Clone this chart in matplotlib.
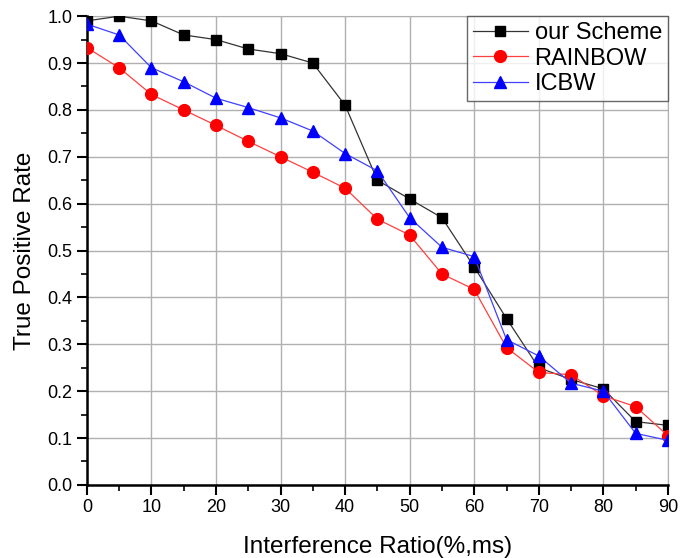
import matplotlib
matplotlib.use("Agg")
import matplotlib.pyplot as plt
from matplotlib.ticker import MultipleLocator, FormatStrFormatter

ratio = [0, 5, 10, 15, 20, 25, 30, 35, 40, 45, 50, 55, 60, 65, 70, 75, 80, 85, 90]
our_scheme = [0.99, 1.0, 0.99, 0.96, 0.95, 0.93, 0.92, 0.90, 0.81, 0.65, 0.61, 0.57,
              0.465, 0.355, 0.25, 0.225, 0.205, 0.135, 0.127]
rainbow = [0.933, 0.89, 0.833, 0.80, 0.767, 0.733, 0.70, 0.667, 0.633, 0.567, 0.533,
           0.45, 0.417, 0.293, 0.24, 0.235, 0.19, 0.167, 0.105]
icbw = [0.983, 0.96, 0.89, 0.86, 0.825, 0.805, 0.783, 0.755, 0.707, 0.67, 0.57,
        0.507, 0.487, 0.31, 0.275, 0.217, 0.2, 0.11, 0.095]

plt.rcParams['font.family'] = ['Liberation Sans', 'DejaVu Sans']

fig = plt.figure(figsize=(6.95, 5.58), dpi=100)
ax = fig.add_axes([0.125, 0.131, 0.836, 0.840])

ax.plot(ratio, our_scheme, color='#333333', lw=0.9, marker='s', ms=7.5,
        mfc='black', mec='black', label='our Scheme', zorder=3)
ax.plot(ratio, rainbow, color='#ff4040', lw=0.9, marker='o', ms=8.5,
        mfc='red', mec='red', label='RAINBOW', zorder=3)
ax.plot(ratio, icbw, color='#4040ff', lw=0.9, marker='^', ms=8.5,
        mfc='blue', mec='blue', label='ICBW', zorder=3)

ax.xaxis.set_major_locator(MultipleLocator(10))
ax.xaxis.set_minor_locator(MultipleLocator(5))
ax.yaxis.set_major_locator(MultipleLocator(0.1))
ax.yaxis.set_minor_locator(MultipleLocator(0.05))
ax.yaxis.set_major_formatter(FormatStrFormatter('%.1f'))
ax.set_xlim(0, 90)
ax.set_ylim(0, 1.0)
ax.grid(True, which='major', color='#b0b0b0', lw=1.0)
ax.set_axisbelow(True)

for s in ['top', 'right']:
    ax.spines[s].set_color('#b0b0b0')
for s in ['left', 'bottom']:
    ax.spines[s].set_linewidth(1.8)
    ax.spines[s].set_color('black')

ax.tick_params(which='major', direction='out', length=7, width=1.5, labelsize=13)
ax.tick_params(which='minor', direction='out', length=4, width=1.2)
ax.tick_params(top=False, right=False)

ax.set_xlabel('Interference Ratio(%,ms)', fontsize=17.5, labelpad=14)
ax.set_ylabel('True Positive Rate', fontsize=17.5, labelpad=8)

leg = ax.legend(loc='upper right', fontsize=17, frameon=True, fancybox=False,
                edgecolor='#444444', borderaxespad=0.0, handlelength=2.3,
                labelspacing=0.15, borderpad=0.25, handletextpad=0.3)
leg.get_frame().set_linewidth(1.0)

fig.savefig('out.png', dpi=100)
